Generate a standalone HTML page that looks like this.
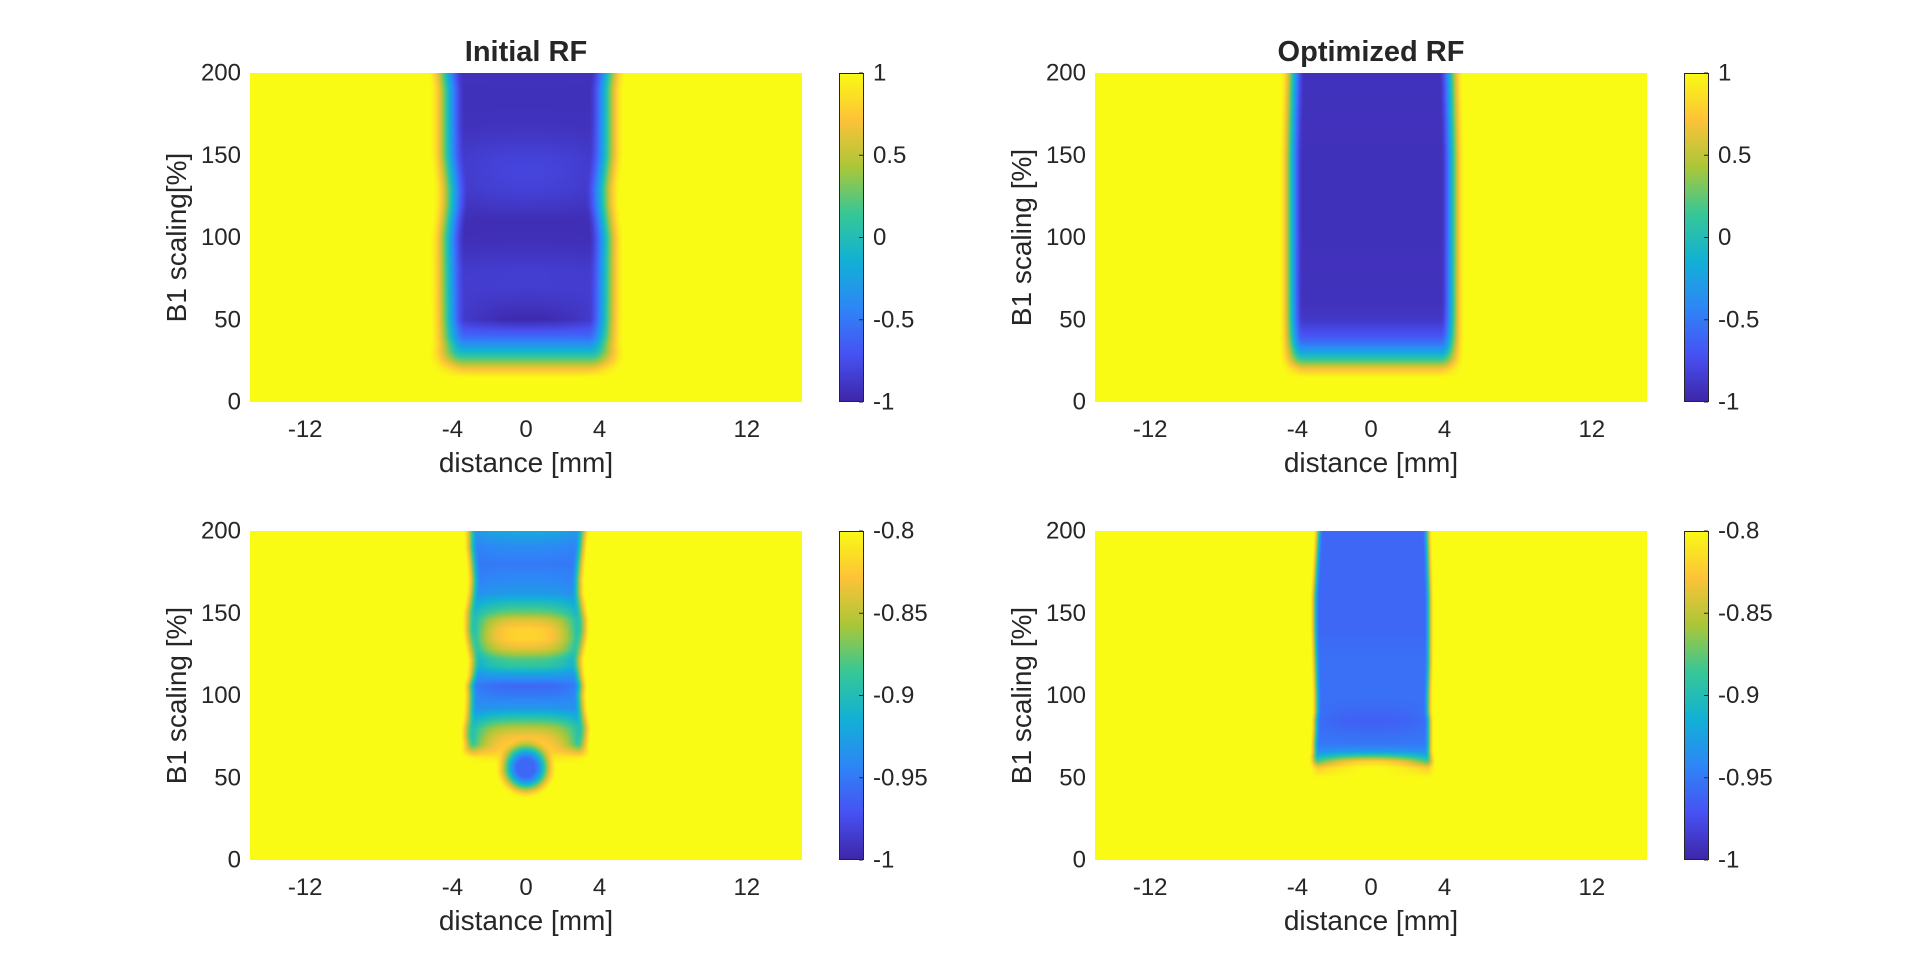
<!DOCTYPE html>
<html><head><meta charset="utf-8"><style>
html,body{margin:0;padding:0;background:#fff;width:1920px;height:967px;overflow:hidden;position:relative}
canvas{position:absolute}
svg{position:absolute;left:0;top:0}
text{font-family:"Liberation Sans",Arial,sans-serif;fill:#262626}
</style></head><body>
<svg id="ov" width="1920" height="967"></svg>
<script>
// ---------- data ----------
const xTicks = [-12, -4, 0, 4, 12];
const yTicks = [0, 50, 100, 150, 200];
const cbTicksTop = [-1, -0.5, 0, 0.5, 1];
const cbTicksBot = [-1, -0.95, -0.9, -0.85, -0.8];
const titles = ["Initial RF", "Optimized RF", "", ""];
const yLabels = ["B1 scaling[%]", "B1 scaling [%]", "B1 scaling [%]", "B1 scaling [%]"];

// Panel A: Initial RF (top-left)
const aKnots = [0,15,20,25,30,35,40,50,60,70,80,90,100,110,120,130,140,150,160,170,180,190,200];
const aLeft  = [-4.4,-4.4,-4.7,-4.9,-4.9,-4.8,-4.8,-4.8,-4.8,-4.8,-4.8,-4.8,-4.8,-4.7,-4.6,-4.6,-4.7,-4.8,-4.8,-4.8,-4.8,-4.8,-4.9];
const aRight = [4.5,4.5,4.8,5.0,5.0,4.9,4.9,4.9,4.9,4.9,4.9,4.9,4.9,4.8,4.7,4.7,4.8,4.9,4.9,4.9,4.9,4.9,5.0];
const aCore  = [1,1,0.7,0.3,-0.05,-0.35,-0.6,-0.98,-0.9,-0.85,-0.85,-0.9,-0.94,-0.95,-0.88,-0.82,-0.8,-0.82,-0.88,-0.92,-0.93,-0.93,-0.92];
const aSide  = [1,1,0.7,0.3,-0.05,-0.35,-0.6,-0.75,-0.82,-0.86,-0.88,-0.92,-0.95,-0.95,-0.93,-0.92,-0.92,-0.92,-0.92,-0.93,-0.93,-0.93,-0.93];

// Panel B: Optimized RF (top-right)
const bKnots = [0,15,20,25,30,35,40,50,60,100,150,200];
const bLeft  = [-4.5,-4.5,-4.6,-4.7,-4.7,-4.7,-4.7,-4.7,-4.7,-4.7,-4.7,-4.6];
const bRight = [4.6,4.6,4.7,4.8,4.8,4.8,4.8,4.8,4.8,4.8,4.8,4.7];
const bCore  = [1,1,0.7,0.2,-0.2,-0.5,-0.7,-0.88,-0.92,-0.93,-0.93,-0.92];
const bSide  = [1,1,0.7,0.2,-0.2,-0.5,-0.7,-0.88,-0.92,-0.93,-0.93,-0.92];

// Panel C: Initial RF, zoomed colour range (bottom-left)
const cKnots = [0,58,62,66,70,75,80,86,92,100,106,112,118,122,128,134,140,146,150,156,162,170,180,190,200];
const cLeft  = [-3.3,-3.3,-3.3,-3.4,-3.35,-3.4,-3.4,-3.3,-3.25,-3.22,-3.25,-3.1,-3.05,-3.04,-3.15,-3.25,-3.3,-3.3,-3.3,-3.2,-3.1,-3.04,-3.1,-3.2,-3.22];
const cRight = [3.4,3.4,3.4,3.35,3.3,3.35,3.4,3.3,3.2,3.15,3.2,3.1,3.05,3.03,3.15,3.25,3.3,3.3,3.25,3.15,3.05,3.03,3.1,3.2,3.3];
const cCore  = [-0.8,-0.8,-0.81,-0.82,-0.82,-0.83,-0.85,-0.89,-0.93,-0.95,-0.96,-0.93,-0.89,-0.88,-0.84,-0.82,-0.82,-0.84,-0.87,-0.9,-0.93,-0.94,-0.95,-0.94,-0.92];
const cSide  = [-0.8,-0.8,-0.8,-0.86,-0.93,-0.94,-0.93,-0.93,-0.94,-0.94,-0.94,-0.94,-0.93,-0.93,-0.93,-0.94,-0.95,-0.94,-0.93,-0.93,-0.94,-0.95,-0.95,-0.95,-0.94];
const cBlobX = [0];
const cBlobB1 = [56];
const cBlobR = [1.3];
const cBlobVal = [-0.96];

// Panel D: Optimized RF, zoomed colour range (bottom-right)
const dKnots = [0,50,56,60,63,66,70,80,85,90,100,120,140,160,180,200];
const dLeft  = [-3.2,-3.2,-3.2,-3.25,-3.25,-3.2,-3.2,-3.15,-3.15,-3.1,-3.1,-3.15,-3.2,-3.2,-3.1,-3.0];
const dRight = [3.4,3.4,3.4,3.4,3.35,3.3,3.3,3.3,3.3,3.25,3.25,3.3,3.3,3.3,3.25,3.2];
const dCore  = [-0.8,-0.8,-0.8,-0.82,-0.88,-0.93,-0.95,-0.96,-0.965,-0.96,-0.955,-0.955,-0.96,-0.96,-0.96,-0.96];
const dSide  = [-0.8,-0.8,-0.83,-0.9,-0.92,-0.94,-0.95,-0.955,-0.955,-0.955,-0.955,-0.955,-0.96,-0.96,-0.96,-0.96];

// parula colormap stops
const parula = [[62,38,168],[72,82,244],[46,135,247],[18,177,214],[55,200,151],[171,199,57],[254,195,56],[249,251,21]];

// ---------- layout ----------
const X0 = [250, 1095], Y0 = [73, 531], PW = 552, PH = 329, XMIN = -15, XMAX = 15;
const panels = [
  {name:"initial-rf", col:0,row:0,k:aKnots,L:aLeft,R:aRight,C:aCore,S:aSide,w:1.5,bg:1,cmin:-1,cmax:1,bx:[],bb:[],br:[],bv:[],cb:cbTicksTop,pw:2},
  {name:"optimized-rf", col:1,row:0,k:bKnots,L:bLeft,R:bRight,C:bCore,S:bSide,w:1.0,bg:1,cmin:-1,cmax:1,bx:[],bb:[],br:[],bv:[],cb:cbTicksTop,pw:2},
  {name:"initial-rf-zoom", col:0,row:1,k:cKnots,L:cLeft,R:cRight,C:cCore,S:cSide,w:0.6,bg:-0.8,cmin:-1,cmax:-0.8,bx:cBlobX,bb:cBlobB1,br:cBlobR,bv:cBlobVal,cb:cbTicksBot,pw:3},
  {name:"optimized-rf-zoom", col:1,row:1,k:dKnots,L:dLeft,R:dRight,C:dCore,S:dSide,w:0.4,bg:-0.8,cmin:-1,cmax:-0.8,bx:[],bb:[],br:[],bv:[],cb:cbTicksBot,pw:2}
];

function interp(k, v, b){
  if(b<=k[0]) return v[0];
  for(let i=1;i<k.length;i++){ if(b<=k[i]){const t=(b-k[i-1])/(k[i]-k[i-1]); return v[i-1]+(v[i]-v[i-1])*t;} }
  return v[v.length-1];
}
function sstep(e0,e1,x){let t=Math.max(0,Math.min(1,(x-e0)/(e1-e0)));return t*t*(3-2*t);}
function cmap(t){
  t=Math.max(0,Math.min(1,t))*(parula.length-1);
  const i=Math.min(parula.length-2,Math.floor(t)), f=t-i, a=parula[i], b=parula[i+1];
  return [a[0]+(b[0]-a[0])*f, a[1]+(b[1]-a[1])*f, a[2]+(b[2]-a[2])*f];
}
const xs = v => (v-XMIN)/(XMAX-XMIN)*PW;
const ys = v => PH - v/200*PH;
const mmPerB1 = (PH/200)/(PW/(XMAX-XMIN));

const ov = document.getElementById('ov');
const NS = "http://www.w3.org/2000/svg";
function txt(x,y,s,opts){
  const t=document.createElementNS(NS,'text');
  t.setAttribute('x',x);t.setAttribute('y',y);t.textContent=s;
  for(const k in opts) t.setAttribute(k,opts[k]);
  ov.appendChild(t); return t;
}

panels.forEach(p=>{
  const left=X0[p.col], top=Y0[p.row];
  const cv=document.createElement('canvas');
  cv.width=PW; cv.height=PH;
  cv.style.left=left+'px'; cv.style.top=top+'px';
  
  
  document.body.insertBefore(cv, ov);
  const ctx=cv.getContext('2d'), img=ctx.createImageData(PW,PH);
  for(let j=0;j<PH;j++){
    const b=200-(j+0.5)/PH*200;
    const L=interp(p.k,p.L,b), R=interp(p.k,p.R,b), c=interp(p.k,p.C,b), sd=interp(p.k,p.S,b);
    const mid=(L+R)/2, half=(R-L)/2;
    for(let i=0;i<PW;i++){
      const x=XMIN+(i+0.5)/PW*(XMAX-XMIN);
      const d=Math.min(x-L,R-x);
      const s=sstep(-0.3*p.w,p.w,d);
      const tt=Math.min(1,Math.abs(x-mid)/half);
      const inner=c+(sd-c)*Math.pow(tt,p.pw);
      let v=p.bg+(inner-p.bg)*s;
      for(let q=0;q<p.bx.length;q++){
        const dx=x-p.bx[q], db=(b-p.bb[q])*mmPerB1;
        const dist=Math.sqrt(dx*dx+db*db);
        const bs=sstep(-0.4,0.9,p.br[q]-dist);
        v=v+(p.bv[q]-v)*bs;
      }
      const col=cmap((v-p.cmin)/(p.cmax-p.cmin));
      const o=(j*PW+i)*4;
      img.data[o]=col[0];img.data[o+1]=col[1];img.data[o+2]=col[2];img.data[o+3]=255;
    }
  }
  ctx.putImageData(img,0,0);

  const cbx=left+589, cbw=25;
  const cb=document.createElement('canvas');
  cb.width=cbw; cb.height=PH;
  cb.style.left=cbx+'px'; cb.style.top=top+'px';
  
  
  document.body.insertBefore(cb, ov);
  const cc=cb.getContext('2d');
  for(let j=0;j<PH;j++){const col=cmap(1-(j+0.5)/PH);cc.fillStyle=`rgb(${col[0]|0},${col[1]|0},${col[2]|0})`;cc.fillRect(0,j,cbw,1);}
  const r=document.createElementNS(NS,'rect');
  r.setAttribute('x',cbx+0.5);r.setAttribute('y',top+0.5);r.setAttribute('width',cbw-1);r.setAttribute('height',PH-1);
  r.setAttribute('fill','none');r.setAttribute('stroke','#262626');r.setAttribute('stroke-width','1');
  
  
  ov.appendChild(r);
  p.cb.forEach(v=>{
    const yy=top+PH-(v-p.cb[0])/(p.cb[p.cb.length-1]-p.cb[0])*PH;
    const ln=document.createElementNS(NS,'line');
    ln.setAttribute('x1',cbx+cbw-5);ln.setAttribute('x2',cbx+cbw-1);ln.setAttribute('y1',yy);ln.setAttribute('y2',yy);
    ln.setAttribute('stroke','#262626');
    
    
    ov.appendChild(ln);
    const t=txt(cbx+34,yy,String(v),{'font-size':'24','dominant-baseline':'central'});
    
    
  });

  xTicks.forEach(v=>{
    const t=txt(left+xs(v),top+PH+35,String(v),{'font-size':'24','text-anchor':'middle'});
    
    
  });
  yTicks.forEach(v=>{
    const t=txt(left-9,top+ys(v),String(v),{'font-size':'24','text-anchor':'end','dominant-baseline':'central'});
    
    
  });
  const xl=txt(left+PW/2,top+PH+70,'distance [mm]',{'font-size':'28','text-anchor':'middle'});
  
  
  const yl=txt(0,0,yLabels[p.col+2*p.row],{'font-size':'28','text-anchor':'middle','transform':`translate(${left-64},${top+PH/2}) rotate(-90)`});
  
  
  const ti=titles[p.col+2*p.row];
  if(ti){
    const tt=txt(left+PW/2,top-12,ti,{'font-size':'29','font-weight':'bold','text-anchor':'middle'});
    
    
  }
});
</script>
</body></html>
